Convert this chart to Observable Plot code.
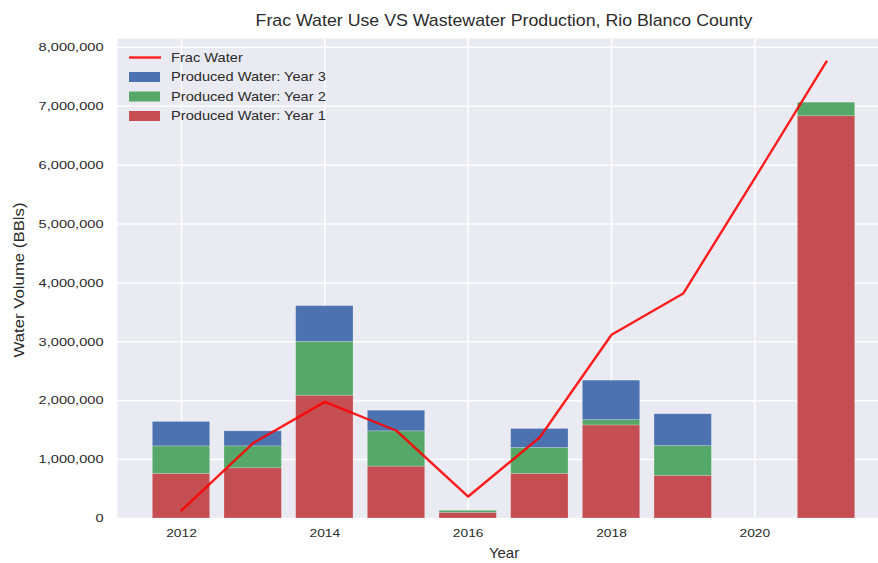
<!DOCTYPE html>
<html>
<head>
<meta charset="utf-8">
<script src="https://cdn.jsdelivr.net/npm/d3@7"></script>
<script src="https://cdn.jsdelivr.net/npm/@observablehq/plot@0.6"></script>
<style>
  html, body { margin: 0; padding: 0; background: #fff; }
  svg { display: block; }
</style>
</head>
<body>
<div id="chart"></div>
<script>
const years = [2012, 2013, 2014, 2015, 2016, 2017, 2018, 2019, 2020, 2021];
const producedYear1 = [757000, 853000, 2085000, 881000, 96000, 757000, 1580000, 724000, 0, 6830000];
const producedYear2 = [468000, 372000, 915000, 599000, 34000, 441000, 90000, 506000, 0, 230000];
const producedYear3 = [414000, 255000, 605000, 350000, 0, 322000, 670000, 540000, 0, 0];
const fracWater = [136000, 1280000, 1980000, 1490000, 373000, 1380000, 3120000, 3820000, 5780000, 7760000];
const seriesNames = ["Produced Water: Year 1", "Produced Water: Year 2", "Produced Water: Year 3"];
const seriesColors = ["#C44E52", "#55A868", "#4C72B0"];
const xTicks = [2012, 2014, 2016, 2018, 2020];
const yTicks = [0, 1000000, 2000000, 3000000, 4000000, 5000000, 6000000, 7000000, 8000000];
const titleText = "Frac Water Use VS Wastewater Production, Rio Blanco County";
const xLabel = "Year";
const yLabel = "Water Volume (BBls)";
const lineLabel = "Frac Water";

// build stacked table from the series arrays
const seriesValues = [producedYear1, producedYear2, producedYear3];
const bars = [];
years.forEach((yr, i) => {
  let base = 0;
  seriesValues.forEach((vals, s) => {
    const v = vals[i];
    if (v > 0) bars.push({year: yr, y1: base, y2: base + v, series: seriesNames[s]});
    base += v;
  });
});
const line = years.map((yr, i) => ({year: yr, value: fracWater[i]}));

const W = 878, H = 563;
const font = "'Liberation Sans', Arial, sans-serif";
const textColor = "#2b2b2b";
const plot = Plot.plot({
  width: W,
  height: H,
  marginLeft: 117,
  marginRight: 0,
  marginTop: 38,
  marginBottom: 45,
  style: {fontFamily: font, fontSize: "11.5px", color: textColor, background: "#fff"},
  x: {domain: [2011.107, 2021.725], label: null},
  y: {domain: [0, 8150000], label: null},
  color: {domain: seriesNames, range: seriesColors},
  marks: [
    Plot.frame({fill: "#EAEAF2", stroke: null}),
    Plot.gridX(xTicks, {stroke: "#fff", strokeOpacity: 1, strokeWidth: 1.5}),
    Plot.gridY(yTicks, {stroke: "#fff", strokeOpacity: 1, strokeWidth: 1.5}),
    Plot.rectY(bars, {
      x1: d => d.year - 0.4,
      x2: d => d.year + 0.4,
      y1: "y1",
      y2: "y2",
      fill: "series",
      stroke: "#fff",
      strokeOpacity: 0.25,
      strokeWidth: 0.8
    }),
    Plot.line(line, {x: "year", y: "value", stroke: "#ff0000", strokeOpacity: 0.88, strokeWidth: 2.4}),
    Plot.axisX({ticks: xTicks, tickFormat: d3.format("d"), tickSize: 0, tickPadding: 10, fill: textColor, fontSize: 11.5, label: null}),
    Plot.axisY({ticks: yTicks, tickFormat: d3.format(","), tickSize: 0, tickPadding: 14, fill: textColor, fontSize: 11.5, label: null})
  ]
});
document.getElementById("chart").appendChild(plot);

const svg = d3.select(plot);
// widen tick label glyphs horizontally to match the reference's rendering
function stretch(selector, sx) {
  svg.selectAll(selector).each(function() {
    const t = d3.select(this);
    const tr = t.attr("transform") || "";
    t.attr("transform", tr + ` scale(${sx},1)`);
  });
}
stretch('g[aria-label="y-axis tick label"] text', 1.27);
stretch('g[aria-label="x-axis tick label"] text', 1.2);

svg.append("text")
  .attr("transform", "translate(504,25.5) scale(1.11,1)")
  .attr("text-anchor", "middle")
  .attr("font-family", font).attr("font-size", 16).attr("fill", textColor)
  .text(titleText);
svg.append("text")
  .attr("transform", "translate(504,558) scale(1.07,1)")
  .attr("text-anchor", "middle")
  .attr("font-family", font).attr("font-size", 14).attr("fill", textColor)
  .text(xLabel);
svg.append("text")
  .attr("transform", "translate(24,280) rotate(-90) scale(1.12,1)")
  .attr("text-anchor", "middle")
  .attr("font-family", font).attr("font-size", 15).attr("fill", textColor)
  .text(yLabel);

// legend (no frame, seaborn style)
const legendItems = [
  {label: lineLabel, type: "line", color: "#ff0000"},
  {label: seriesNames[2], type: "rect", color: seriesColors[2]},
  {label: seriesNames[1], type: "rect", color: seriesColors[1]},
  {label: seriesNames[0], type: "rect", color: seriesColors[0]}
];
const lg = svg.append("g").attr("font-family", font).attr("font-size", 12).attr("fill", textColor)
  .attr("text-anchor", "start");
legendItems.forEach((it, i) => {
  const cy = 57.5 + i * 19.5;
  if (it.type === "line") {
    lg.append("line").attr("x1", 129).attr("x2", 161).attr("y1", cy).attr("y2", cy)
      .attr("stroke", it.color).attr("stroke-opacity", 0.88).attr("stroke-width", 2.4);
  } else {
    lg.append("rect").attr("x", 129).attr("y", cy - 5).attr("width", 31).attr("height", 10)
      .attr("fill", it.color);
  }
  lg.append("text").attr("transform", `translate(171,${cy}) scale(1.22,1)`)
    .attr("dy", "0.35em").text(it.label);
});
</script>
</body>
</html>
